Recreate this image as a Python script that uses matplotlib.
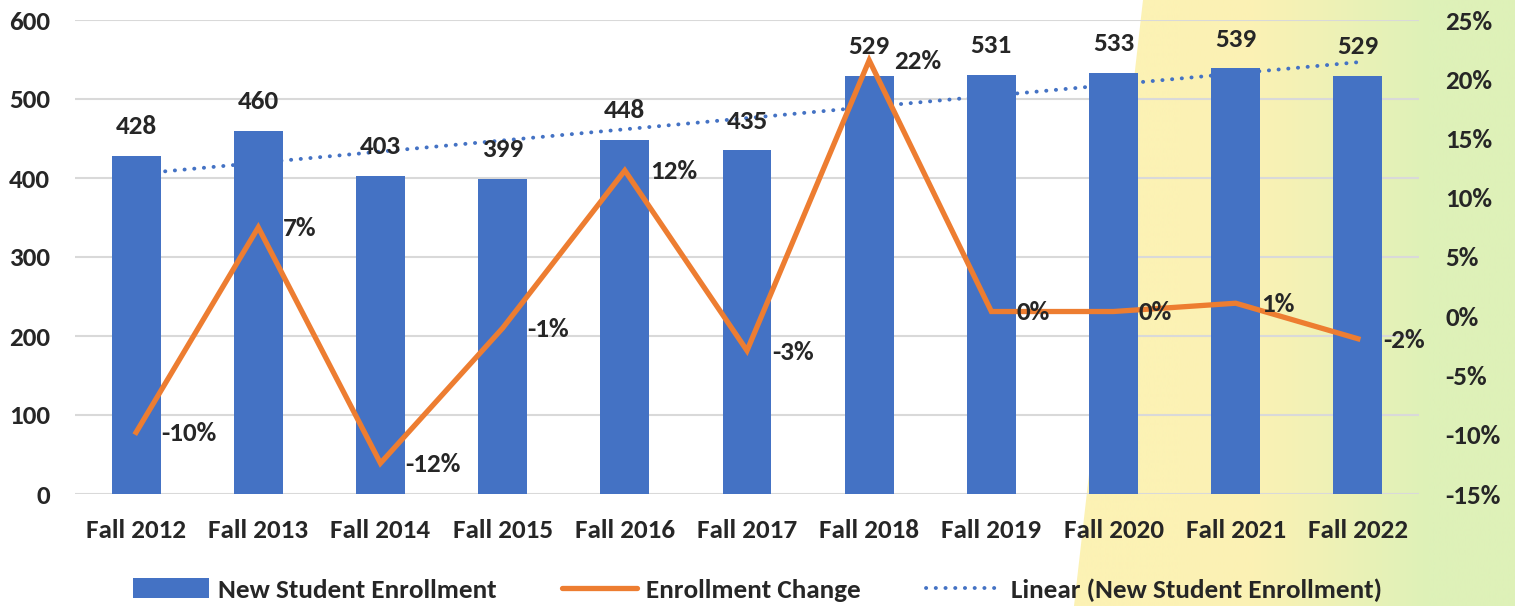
import numpy as np
import matplotlib
matplotlib.use("Agg")
import matplotlib.pyplot as plt
from matplotlib.patches import Patch, Polygon
from matplotlib.lines import Line2D
from matplotlib.colors import LinearSegmentedColormap

# ---- data ----
categories = ["Fall 2012", "Fall 2013", "Fall 2014", "Fall 2015", "Fall 2016", "Fall 2017",
              "Fall 2018", "Fall 2019", "Fall 2020", "Fall 2021", "Fall 2022"]
enrollment = [428, 460, 403, 399, 448, 435, 529, 531, 533, 539, 529]
change_pct = [-9.8, 7.5, -12.4, -1.0, 12.3, -2.9, 21.6, 0.4, 0.4, 1.1, -1.9]
change_labels = ["-10%", "7%", "-12%", "-1%", "12%", "-3%", "22%", "0%", "0%", "1%", "-2%"]
left_ticks = [0, 100, 200, 300, 400, 500, 600]
right_ticks = [-15, -10, -5, 0, 5, 10, 15, 20, 25]

BLUE = "#4472C4"
ORANGE = "#ED7D31"
TXT = "#262626"
GRID = "#D9D9D9"

plt.rcParams['font.family'] = ['Carlito', 'DejaVu Sans']
plt.rcParams['font.weight'] = 'bold'
FS = 19.5

W, H = 1515, 606
fig = plt.figure(figsize=(W / 100, H / 100), dpi=100)

# ---- background gradient (slanted band on the right) ----
bg = fig.add_axes([0, 0, 1, 1], zorder=-10)
bg.set_xlim(0, W)
bg.set_ylim(0, H)
bg.axis('off')
cmap = LinearSegmentedColormap.from_list(
    'yg', [(0.0, '#FCF2B4'), (0.30, '#FBF1B4'), (0.62, '#EEF2B6'), (1.0, '#DEF1B8')])
grad = np.clip((np.linspace(1074, W, 512) - 1180) / (1430 - 1180), 0, 1)
img = bg.imshow(grad[None, :], extent=[1074, W, 0, H], cmap=cmap, aspect='auto',
                vmin=0, vmax=1, interpolation='bilinear')
poly = Polygon([(1143, H), (W, H), (W, 0), (1074, 0)], closed=True,
               transform=bg.transData, facecolor='none', edgecolor='none')
bg.add_patch(poly)
img.set_clip_path(poly)

# ---- main axes ----
ax = fig.add_axes([75 / W, (H - 494) / H, (1419 - 75) / W, (494 - 20) / H])
ax.set_facecolor('none')
x = np.arange(len(categories))

ax.bar(x, enrollment, width=0.4, color=BLUE, zorder=3)
# linear trendline (least squares like Excel)
coef = np.polyfit(x, enrollment, 1)
DOT = (0, (0.05, 2.45))
ax.plot(x, np.polyval(coef, x), color=BLUE, lw=2.8,
        linestyle=DOT, dash_capstyle='round', zorder=2)

ax.set_ylim(0, 600)
ax.set_yticks(left_ticks)
ax.set_xlim(-0.5, len(categories) - 0.5)
ax.set_xticks(x)
ax.set_xticklabels(categories)
ax.grid(axis='y', color=GRID, lw=1.5, zorder=0)
ax.set_axisbelow(True)
for s in ax.spines.values():
    s.set_visible(False)
ax.tick_params(axis='both', length=0, labelsize=FS, labelcolor=TXT)
ax.tick_params(axis='y', pad=18)
ax.tick_params(axis='x', pad=18)

for xi, v in zip(x, enrollment):
    ax.annotate(str(v), (xi, v), xytext=(0, 21), textcoords='offset points',
                ha='center', va='center', fontsize=FS, color=TXT, fontweight='bold', zorder=6)

# ---- secondary axis ----
ax2 = ax.twinx()
ax2.set_facecolor('none')
ax2.plot(x, change_pct, color=ORANGE, lw=3.8, solid_joinstyle='miter', zorder=4)
ax2.set_ylim(-15, 25)
ax2.set_yticks(right_ticks)
ax2.set_yticklabels([f"{t}%" for t in right_ticks])
for s in ax2.spines.values():
    s.set_visible(False)
ax2.tick_params(axis='y', length=0, labelsize=FS, labelcolor=TXT, pad=19)
for xi, v, lab in zip(x, change_pct, change_labels):
    ax2.annotate(lab, (xi, v), xytext=(18, -1), textcoords='offset points',
                 ha='left', va='center', fontsize=FS, color=TXT, fontweight='bold', zorder=6)

# ---- legend ----
handles = [Patch(facecolor=BLUE, edgecolor='none'),
           Line2D([0], [0], color=ORANGE, lw=3.8, solid_capstyle='round'),
           Line2D([0], [0], color=BLUE, lw=2.8, linestyle=DOT, dash_capstyle='round')]
labels = ["New Student Enrollment", "Enrollment Change", "Linear (New Student Enrollment)"]
leg = fig.legend(handles, labels, loc='center', bbox_to_anchor=(0.5, (H - 590) / H),
                 ncol=3, frameon=False, fontsize=FS, handlelength=2.8, handleheight=0.75,
                 handletextpad=0.33, columnspacing=2.4)
for t in leg.get_texts():
    t.set_color(TXT)

fig.savefig("out.png", dpi=100)
